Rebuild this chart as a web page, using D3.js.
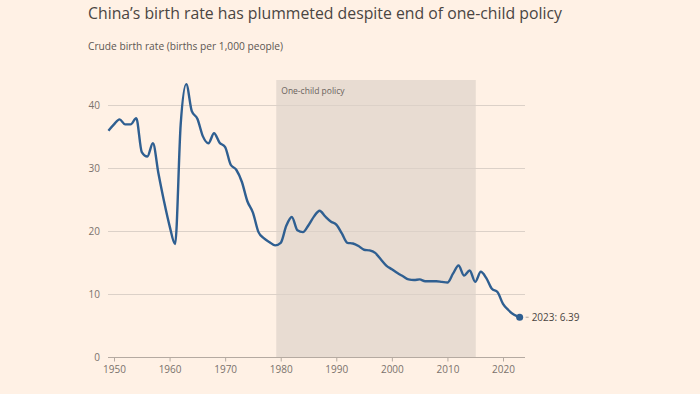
<!DOCTYPE html>
<html>
<head>
<meta charset="utf-8">
<script src="https://d3js.org/d3.v7.min.js"></script>
<style>
  body { margin: 0; background: #fff1e5; }
  svg { display: block; font-family: "Open Sans", "Noto Sans", sans-serif; }
</style>
</head>
<body>
<div id="chart"></div>
<script>
// Crude birth rate, China (births per 1,000 people)
const years = d3.range(1949, 2024);
const rates = [
    36.0, 37.0, 37.8, 37.0, 37.0, 38.0, 32.6, 31.9, 34.0, 29.2,
    24.8, 20.9, 18.0, 37.0, 43.4, 39.1, 37.9, 35.1, 34.0, 35.6,
    34.1, 33.4, 30.6, 29.8, 27.9, 24.8, 23.0, 19.9, 18.9, 18.3,
    17.8, 18.2, 20.9, 22.3, 20.2, 19.9, 21.0, 22.4, 23.3, 22.4,
    21.6, 21.1, 19.7, 18.2, 18.1, 17.7, 17.1, 17.0, 16.6, 15.6,
    14.6, 14.0, 13.4, 12.9, 12.4, 12.3, 12.4, 12.1, 12.1, 12.1,
    12.0, 11.9, 13.3, 14.6, 13.0, 13.8, 12.0, 13.6, 12.6, 10.9,
    10.4, 8.5, 7.5, 6.77, 6.39
];
const yTicks = [0, 10, 20, 30, 40];
const xTicks = [1950, 1960, 1970, 1980, 1990, 2000, 2010, 2020];
const policy = [1979.2, 2015.1];

const width = 700, height = 394;
const svg = d3.select("#chart").append("svg")
    .attr("width", width)
    .attr("height", height);

const x = d3.scaleLinear().domain([1950, 2020]).range([114, 503]);
const y = d3.scaleLinear().domain([0, 40]).range([357.5, 105.5]);
const gridLeft = 108, gridRight = 525;

// titles
svg.append("text")
    .attr("x", 88).attr("y", 19)
    .attr("font-size", 15.8)
    .attr("fill", "#4a4542")
    .text("China’s birth rate has plummeted despite end of one-child policy");

svg.append("text")
    .attr("x", 88).attr("y", 50)
    .attr("font-size", 10.2)
    .attr("fill", "#5c5652")
    .text("Crude birth rate (births per 1,000 people)");

// shaded one-child policy period
svg.append("rect")
    .attr("x", x(policy[0]))
    .attr("y", 80)
    .attr("width", x(policy[1]) - x(policy[0]))
    .attr("height", y(0) - 80)
    .attr("fill", "#e8dcd2");

svg.append("text")
    .attr("x", x(policy[0]) + 5).attr("y", 94)
    .attr("font-size", 8.5)
    .attr("fill", "#6b635d")
    .text("One-child policy");

// gridlines
svg.append("g").selectAll("line")
    .data(yTicks.filter(d => d > 0))
    .enter().append("line")
    .attr("x1", gridLeft).attr("x2", gridRight)
    .attr("y1", d => y(d)).attr("y2", d => y(d))
    .attr("stroke", "#dcd1c8")
    .attr("stroke-width", 1);

// y labels
svg.append("g").selectAll("text")
    .data(yTicks)
    .enter().append("text")
    .attr("x", 100).attr("y", d => y(d) + 3.5)
    .attr("text-anchor", "end")
    .attr("font-size", 10)
    .attr("fill", "#7a726c")
    .text(d => d);

// x axis
const xAxis = svg.append("g")
    .attr("transform", `translate(0,${y(0)})`)
    .call(d3.axisBottom(x).tickValues(xTicks).tickFormat(d3.format("d")).tickSize(4).tickPadding(4));
xAxis.select(".domain").remove();
xAxis.selectAll(".tick line").attr("stroke", "#b5aaa1");
xAxis.selectAll(".tick text")
    .attr("font-size", 10)
    .attr("fill", "#7a726c")
    .attr("font-family", "'Open Sans', sans-serif");

svg.append("line")
    .attr("x1", gridLeft).attr("x2", gridRight)
    .attr("y1", y(0)).attr("y2", y(0))
    .attr("stroke", "#b5aaa1")
    .attr("stroke-width", 1.2);

// line
const data = years.map((yr, i) => ({ year: yr, rate: rates[i] }));
const line = d3.line()
    .x(d => x(d.year))
    .y(d => y(d.rate))
    .curve(d3.curveMonotoneX);

svg.append("path")
    .datum(data)
    .attr("d", line)
    .attr("fill", "none")
    .attr("stroke", "#2f5f91")
    .attr("stroke-width", 2.4)
    .attr("stroke-linejoin", "round");

const last = data[data.length - 1];
svg.append("circle")
    .attr("cx", x(last.year)).attr("cy", y(last.rate))
    .attr("r", 3.5)
    .attr("fill", "#2f5f91");

svg.append("line")
    .attr("x1", x(last.year) + 6).attr("x2", x(last.year) + 9)
    .attr("y1", y(last.rate)).attr("y2", y(last.rate))
    .attr("stroke", "#b5aaa1");

svg.append("text")
    .attr("x", x(last.year) + 12).attr("y", y(last.rate) + 3.5)
    .attr("font-size", 10)
    .attr("fill", "#4a4542")
    .text(`${last.year}: ${last.rate}`);
</script>
</body>
</html>
